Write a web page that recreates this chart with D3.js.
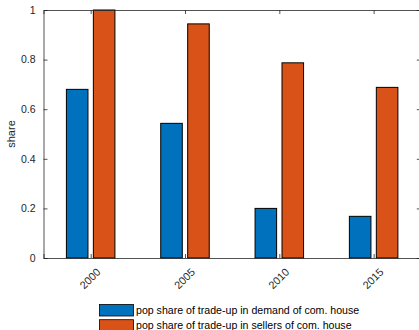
<!DOCTYPE html>
<html>
<head>
<meta charset="utf-8">
<script src="https://cdn.jsdelivr.net/npm/d3@7"></script>
<style>
  html, body { margin: 0; padding: 0; background: #fff; }
  svg { display: block; font-family: "Liberation Sans", Arial, Helvetica, sans-serif; }
</style>
</head>
<body>
<svg id="chart" width="419" height="330"></svg>
<script>
// Years on the category axis
const years = ["2000", "2005", "2010", "2015"];
// Population share of trade-up households among demand for commercial housing
const demandShare = [0.68, 0.543, 0.20, 0.168];
// Population share of trade-up households among sellers of commercial housing
const sellerShare = [1.0, 0.944, 0.787, 0.688];
const seriesNames = [
  "pop share of trade-up in demand of com. house",
  "pop share of trade-up in sellers of com. house"
];
const yTicks = [0, 0.2, 0.4, 0.6, 0.8, 1];

const colors = ["#0072BD", "#D95319"];
const axisColor = "#262626";

const svg = d3.select("#chart");
const plot = { left: 43.5, right: 420.8, top: 10, bottom: 258 };

// Categories sit at 1..n, axis spans n +/- 0.5
const x = d3.scaleLinear().domain([0.5, years.length + 0.5]).range([plot.left, plot.right]);
const y = d3.scaleLinear().domain([0, 1]).range([plot.bottom, plot.top]);

const series = [demandShare, sellerShare];
const groupWidth = 2 / 3.5;
const barW = groupWidth / 2 * 0.8;
const offsets = [-groupWidth / 4, groupWidth / 4];

// Bars
series.forEach((vals, s) => {
  svg.append("g").selectAll("rect").data(vals).join("rect")
    .attr("x", (d, i) => x(i + 1 + offsets[s] - barW / 2))
    .attr("width", (d, i) => x(barW) - x(0))
    .attr("y", d => y(d))
    .attr("height", d => y(0) - y(d))
    .attr("fill", colors[s])
    .attr("stroke", "#000")
    .attr("stroke-width", 1);
});

// Axes: left and bottom carry labels, top and right mirror the ticks
const tickLen = 4;
const xTickVals = years.map((d, i) => i + 1);

const axLeft = svg.append("g").attr("transform", `translate(${plot.left},0)`)
  .call(d3.axisLeft(y).tickValues(yTicks).tickSize(-tickLen).tickPadding(8)
    .tickFormat(d => d === 0 || d === 1 ? d3.format("d")(d) : d3.format(".1f")(d)));
const axRight = svg.append("g").attr("transform", `translate(${plot.right},0)`)
  .call(d3.axisRight(y).tickValues(yTicks).tickSize(-tickLen).tickFormat(""));
const axBottom = svg.append("g").attr("transform", `translate(0,${plot.bottom})`)
  .call(d3.axisBottom(x).tickValues(xTickVals).tickSize(-tickLen).tickFormat(""));
const axTop = svg.append("g").attr("transform", `translate(0,${plot.top})`)
  .call(d3.axisTop(x).tickValues(xTickVals).tickSize(-tickLen).tickFormat(""));

[axLeft, axRight, axBottom, axTop].forEach(g => {
  g.select(".domain").attr("stroke", axisColor).attr("stroke-width", 0.8);
  g.selectAll(".tick line").attr("stroke", axisColor).attr("stroke-width", 0.8);
  g.selectAll("text").attr("fill", axisColor).attr("font-size", 10.5)
    .attr("font-family", "Liberation Sans, Arial, sans-serif");
});

// Rotated year labels
svg.append("g").selectAll("text").data(years).join("text")
  .attr("transform", (d, i) => `translate(${x(i + 1) + 8},${plot.bottom + 12}) rotate(-45)`)
  .attr("text-anchor", "end")
  .attr("dy", "0.35em")
  .attr("font-size", 10.8)
  .attr("fill", axisColor)
  .text(d => d);

// Y axis title
svg.append("text")
  .attr("transform", `translate(15,${(plot.top + plot.bottom) / 2}) rotate(-90)`)
  .attr("text-anchor", "middle")
  .attr("font-size", 11)
  .attr("fill", axisColor)
  .text("share");

// Legend
const legend = svg.append("g");
seriesNames.forEach((name, i) => {
  const ly = 304.5 + i * 15.2;
  legend.append("rect")
    .attr("x", 99.5).attr("y", ly)
    .attr("width", 34).attr("height", 11.5)
    .attr("fill", colors[i]).attr("stroke", "#000").attr("stroke-width", 0.8);
  legend.append("text")
    .attr("x", 136).attr("y", ly + 6)
    .attr("dy", "0.35em")
    .attr("font-size", 10.6)
    .attr("fill", "#000")
    .text(name);
});
</script>
</body>
</html>
